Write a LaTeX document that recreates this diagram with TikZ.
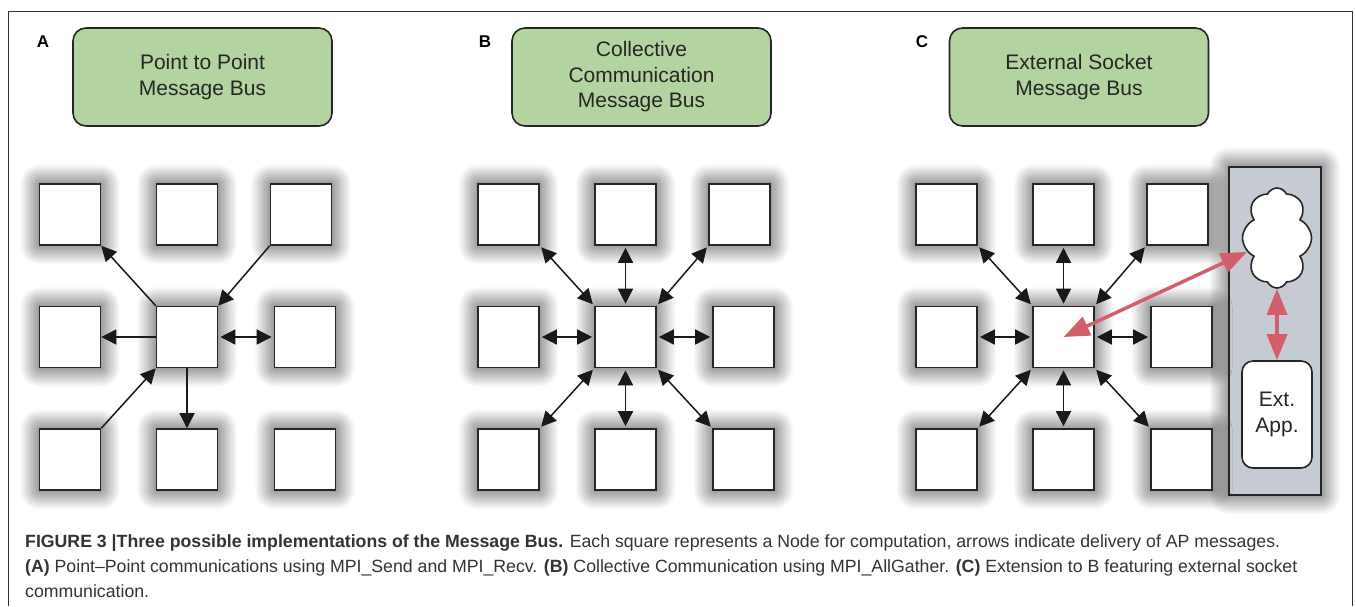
\documentclass[tikz,border=0pt]{standalone}
\usepackage{fontspec}
\setmainfont{Liberation Sans}
\usetikzlibrary{shapes.symbols, shadows.blur, arrows.meta}

\definecolor{busgreen}{RGB}{179,211,160}
\definecolor{linkred}{RGB}{211,94,108}
\definecolor{sockgray}{RGB}{198,202,210}

\tikzset{
  glow/.style={blur shadow={shadow xshift=0pt, shadow yshift=0pt, shadow blur radius=20pt, shadow blur steps=30, shadow opacity=80}},
  nodebox/.style={draw=black!85, line width=1.6pt, fill=white, minimum width=61pt, minimum height=61pt, inner sep=0pt, glow},
  busbox/.style={draw=black!85, line width=1.6pt, fill=busgreen, rounded corners=13pt, minimum width=259pt, minimum height=98pt, align=center, font=\fontsize{21}{25.5}\selectfont, text=black!85},
  panel/.style={font=\fontsize{17}{20}\selectfont\bfseries},
  msg/.style={-{Triangle[length=15pt,width=15pt]}, line width=1.5pt, black!90},
  both/.style={{Triangle[length=15pt,width=15pt]}-{Triangle[length=15pt,width=15pt]}, line width=1.5pt, black!90, shorten <=2pt, shorten >=2pt},
  sock/.style={{Triangle[length=26pt,width=20pt]}-{Triangle[length=26pt,width=20pt]}, line width=3.5pt, linkred},
  capline/.style={anchor=base west, inner sep=0pt, font=\fontsize{17.7}{25}\selectfont, text=black!80},
}

\begin{document}
\begin{tikzpicture}[x=1pt, y=-1pt]
    \useasboundingbox (0,0) rectangle (1356,606);
    % Frame
    \draw[black!80, line width=1pt] (8,606) -- (8,11) -- (1352,11) -- (1352,606);

    % Panel labels and bus boxes
    \node[panel] (la) at (43,42) {A};
    \node[panel] (lb) at (485,42) {B};
    \node[panel] (lc) at (922,42) {C};
    \node[busbox] (busa) at (202.5,77) {Point to Point\\Message Bus};
    \node[busbox] (busb) at (641.5,77) {Collective\\Communication\\Message Bus};
    \node[busbox] (busc) at (1079,77) {External Socket\\Message Bus};

    % Socket panel (behind C)
    \node[draw=black!85, line width=1.6pt, fill=sockgray, minimum width=92pt, minimum height=328pt, glow] (sp) at (1275,331) {};

    % Computation nodes
    \foreach \p/\x in {a/70, b/508.5, c/946.5} {
        \node[nodebox] (\p-1-1) at (\x,214.5) {};
        \node[nodebox] (\p-1-2) at (\x+117,214.5) {};
        \node[nodebox] (\p-1-3) at (\x+231,214.5) {};
        \node[nodebox] (\p-2-1) at (\x,337) {};
        \node[nodebox] (\p-2-2) at (\x+117,337) {};
        \node[nodebox] (\p-2-3) at (\x+235,337) {};
        \node[nodebox] (\p-3-1) at (\x,459.5) {};
        \node[nodebox] (\p-3-2) at (\x+117,459.5) {};
        \node[nodebox] (\p-3-3) at (\x+235,459.5) {};
    }

    % A: point to point
    \draw[msg] (a-2-2.north west) -- (a-1-1.south east);
    \draw[msg] (a-1-3.south west) -- (a-2-2.north east);
    \draw[msg] (a-2-2.west) -- (a-2-1.east);
    \draw[both] (a-2-2.east) -- (a-2-3.west);
    \draw[msg] (a-3-1.north east) -- (a-2-2.south west);
    \draw[msg] (a-2-2.south) -- (a-3-2.north);

    % B and C: all gather
    \foreach \p in {b, c} {
        \draw[both] (\p-2-2.north west) -- (\p-1-1.south east);
        \draw[both] (\p-2-2.north) -- (\p-1-2.south);
        \draw[both] (\p-2-2.north east) -- (\p-1-3.south west);
        \draw[both] (\p-2-2.west) -- (\p-2-1.east);
        \draw[both] (\p-2-2.east) -- (\p-2-3.west);
        \draw[both] (\p-2-2.south west) -- (\p-3-1.north east);
        \draw[both] (\p-2-2.south) -- (\p-3-2.north);
        \draw[both] (\p-2-2.south east) -- (\p-3-3.north west);
    }

    % C: external socket
    \node[cloud, cloud puffs=8, cloud puff arc=130, aspect=0.69, draw=black!85, line width=1.6pt, fill=white, minimum width=69pt, minimum height=100pt] (cld) at (1277,238) {};
    \node[draw=black!85, line width=1.6pt, fill=white, rounded corners=11pt, minimum width=70pt, minimum height=107pt, align=center, font=\fontsize{21}{25.5}\selectfont, text=black!85] (ext) at (1277,414.5) {Ext.\\App.};
    \draw[sock] (c-2-2.center) -- (cld);
    \draw[sock] (cld.south) -- (ext.north);

    % Caption
    \node[capline] (cap1) at (25,547.5) {\textbf{FIGURE 3 |Three possible implementations of the Message Bus.} Each square represents a Node for computation, arrows indicate delivery of AP messages.};
    \node[capline] (cap2) at (25,572.5) {\textbf{(A)} Point--Point communications using MPI\_Send and MPI\_Recv. \textbf{(B)} Collective Communication using MPI\_AllGather. \textbf{(C)} Extension to B featuring external socket};
    \node[capline] (cap3) at (25,597.5) {communication.};
\end{tikzpicture}
\end{document}
